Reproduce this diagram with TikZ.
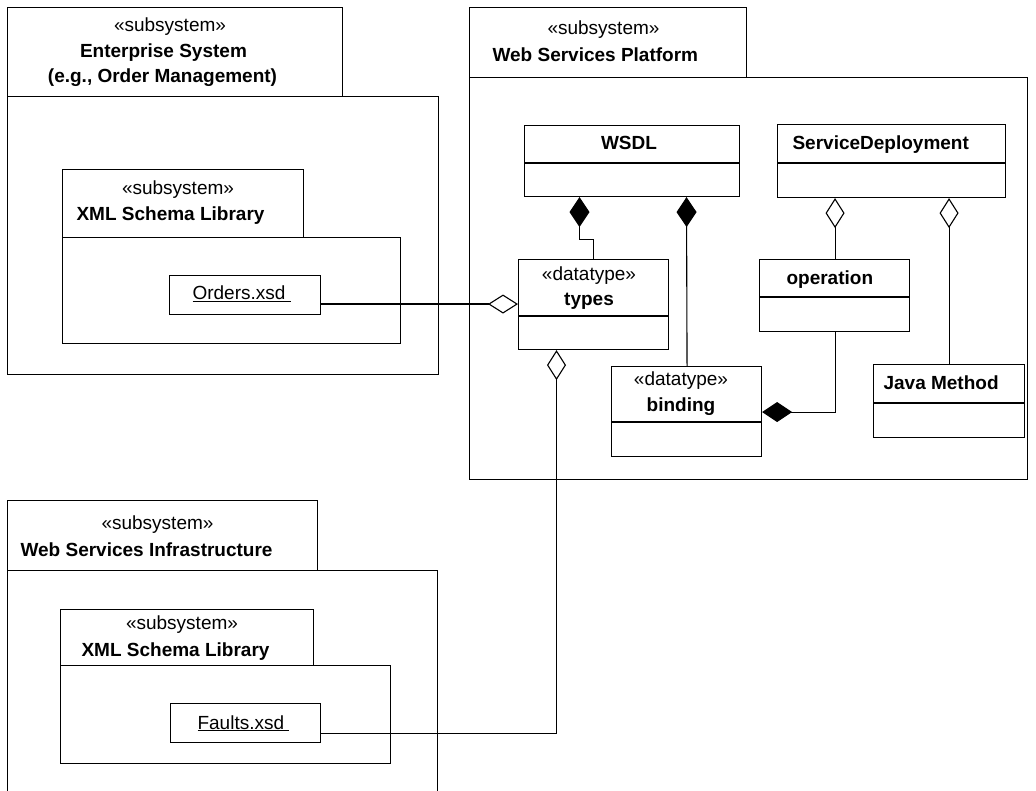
\documentclass[tikz,border=0pt]{standalone}
\usepackage{fontspec}
\setmainfont{Liberation Sans}
\usetikzlibrary{arrows.meta,calc}
\begin{document}
\begin{tikzpicture}[x=1pt,y=-1pt,
  line width=1.1pt,
  every node/.style={font=\fontsize{19}{23}\selectfont, inner sep=0pt},
  lbl/.style={anchor=base},
  lblw/.style={anchor=base west},
  ttl/.style={font=\fontsize{19}{23}\selectfont\bfseries},
  frame/.style={draw, inner sep=0pt, anchor=north west},
  cls/.style={draw, fill=white, inner sep=0pt, anchor=north west},
  thindiv/.style={line width=1.1pt},
  thickdiv/.style={line width=2pt},
  comp/.style={-{Diamond[length=30pt,width=20pt,fill=black]}},
  aggr/.style={-{Diamond[open,length=30pt,width=19pt]}},
]
\useasboundingbox (0,0) rectangle (1036,791);

% Enterprise System package
\node[frame, minimum width=335pt, minimum height=89pt] (enttab) at (7,7) {};
\node[frame, minimum width=431pt, minimum height=278pt] (entbody) at (7,96) {};
\node[frame, minimum width=241pt, minimum height=68pt] (xmltaba) at (62,169) {};
\node[frame, minimum width=338pt, minimum height=106pt] (xmlbodya) at (62,237) {};
\node[frame, minimum width=151pt, minimum height=39pt] (orders) at (169,275) {};

% Web Services Platform package
\node[frame, minimum width=277pt, minimum height=70pt] (wsptab) at (469,7) {};
\node[frame, minimum width=558pt, minimum height=402pt] (wspbody) at (469,77) {};

\node[cls, minimum width=215pt, minimum height=71pt] (wsdl) at (524,125) {};
\draw[thindiv] ([yshift=-38pt]wsdl.north west) -- ([yshift=-38pt]wsdl.north east);
\node[cls, minimum width=228pt, minimum height=73pt] (sd) at (777,124) {};
\draw[thindiv] ([yshift=-39pt]sd.north west) -- ([yshift=-39pt]sd.north east);
\node[cls, minimum width=150pt, minimum height=90pt] (types) at (518,259) {};
\draw[thickdiv] ([yshift=-57pt]types.north west) -- ([yshift=-57pt]types.north east);
\node[cls, minimum width=150pt, minimum height=72pt] (operation) at (759,259) {};
\draw[thindiv] ([yshift=-38pt]operation.north west) -- ([yshift=-38pt]operation.north east);
\node[cls, minimum width=150pt, minimum height=90pt] (binding) at (611,366) {};
\draw[thickdiv] ([yshift=-56pt]binding.north west) -- ([yshift=-56pt]binding.north east);
\node[cls, minimum width=151pt, minimum height=73pt] (java) at (873,364) {};
\draw[thickdiv] ([yshift=-39pt]java.north west) -- ([yshift=-39pt]java.north east);

% Web Services Infrastructure package
\node[frame, minimum width=310pt, minimum height=70pt] (wsitab) at (7,500) {};
\draw (7.55,791) -- (7.55,570.55) -- (437.45,570.55) -- (437.45,791);
\node[frame, minimum width=253pt, minimum height=56pt] (xmltabb) at (60,609) {};
\node[frame, minimum width=330pt, minimum height=98pt] (xmlbodyb) at (60,665) {};
\node[frame, minimum width=150pt, minimum height=39pt] (faults) at (170,703) {};

% connectors
\draw[comp] ([xshift=75.5pt]types.north west) -- ++(0,-19.5) -| ([xshift=55.5pt]wsdl.south west);
\draw[comp] ([xshift=0.5pt]binding.north) -- ([xshift=162.5pt]wsdl.south west);
\draw[aggr] ([xshift=0.5pt]operation.north) -- ([xshift=-56.5pt]sd.south);
\draw[aggr] (java.north) -- (java.north |- sd.south);
\draw[comp] ([xshift=0.5pt]operation.south) |- ([yshift=-0.5pt]binding.east);
\draw[aggr] ([yshift=-9pt]orders.east) -- ([yshift=-9pt]orders.east -| types.west);
\draw[aggr] ([yshift=-10pt]faults.east) -| ([xshift=38.5pt]types.south west);

% labels
\node[lbl] (entst) at (170,32) {«subsystem»};
\node[lbl,ttl] (entna) at (163.5,58) {Enterprise System};
\node[lbl,ttl] (entnb) at (162.5,83) {(e.g., Order Management)};
\node[lbl] (xast) at (178,195) {«subsystem»};
\node[lblw,ttl] (xan) at (76,221) {XML Schema Library};
\node[lblw] (orderst) at (192,300) {\underline{Orders.xsd\ }};

\node[lbl] (wspst) at (603.5,35) {«subsystem»};
\node[lblw,ttl] (wspn) at (492,62) {Web Services Platform};
\node[lbl,ttl] (wsdlt) at (629,150) {WSDL};
\node[lblw,ttl] (sdt) at (792,150) {ServiceDeployment};
\node[lbl] (typesst) at (589,281) {«datatype»};
\node[lbl,ttl] (typesn) at (589,306) {types};
\node[lblw,ttl] (opt) at (786,285) {operation};
\node[lbl] (bindst) at (681,386) {«datatype»};
\node[lbl,ttl] (bindn) at (681,411) {binding};
\node[lblw,ttl] (javat) at (883,390) {Java Method};

\node[lbl] (wsist) at (157.5,529) {«subsystem»};
\node[lblw,ttl] (wsin) at (20,556) {Web Services Infrastructure};
\node[lbl] (xbst) at (182,629) {«subsystem»};
\node[lblw,ttl] (xbn) at (81,656) {XML Schema Library};
\node[lblw] (faultst) at (197,729) {\underline{Faults.xsd\ }};
\end{tikzpicture}
\end{document}
